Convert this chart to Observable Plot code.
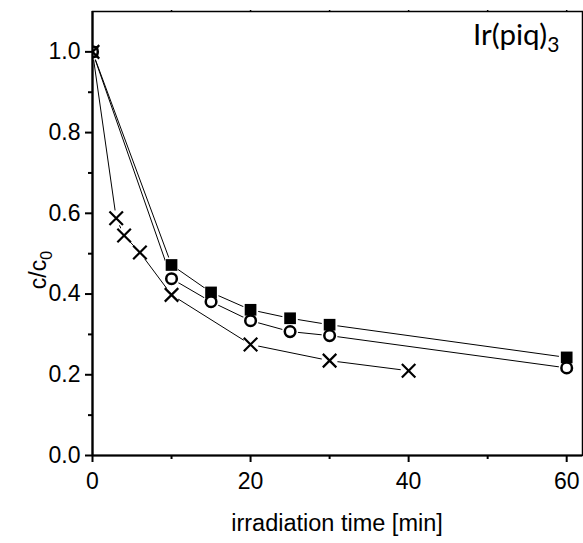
<!DOCTYPE html>
<html>
<head>
<meta charset="utf-8">
<script src="https://cdn.jsdelivr.net/npm/d3@7"></script>
<script src="https://cdn.jsdelivr.net/npm/@observablehq/plot@0.6"></script>
<style>
  html, body { margin: 0; padding: 0; background: #fff; }
  #chart svg { display: block; }
</style>
</head>
<body>
<div id="chart"></div>
<script>
// Series: filled squares
const timeSquare = [0, 10, 15, 20, 25, 30, 60];
const valSquare  = [1.0, 0.472, 0.404, 0.361, 0.340, 0.324, 0.243];
// Series: open circles
const timeCircle = [0, 10, 15, 20, 25, 30, 60];
const valCircle  = [1.0, 0.438, 0.381, 0.334, 0.307, 0.297, 0.217];
// Series: crosses
const timeCross = [0, 3, 4, 6, 10, 20, 30, 40];
const valCross  = [1.0, 0.588, 0.545, 0.503, 0.398, 0.275, 0.235, 0.210];

const xMajor = [0, 20, 40, 60];
const xMinor = [10, 30, 50];
const yMajor = [0, 0.2, 0.4, 0.6, 0.8, 1.0];
const yMinor = [0.1, 0.3, 0.5, 0.7, 0.9];

const sq = timeSquare.map((t, i) => ({t, v: valSquare[i]}));
const ci = timeCircle.map((t, i) => ({t, v: valCircle[i]}));
const cr = timeCross.map((t, i) => ({t, v: valCross[i]}));

const font = "'Liberation Sans', Arial, sans-serif";

const chart = Plot.plot({
  width: 583,
  height: 543,
  marginLeft: 92,
  marginRight: 1,
  marginTop: 11,
  marginBottom: 88,
  style: {background: "white", color: "black"},
  x: {domain: [0, 62]},
  y: {domain: [0, 1.1]},
  marks: [
    Plot.line(sq, {x: "t", y: "v", stroke: "black", strokeWidth: 1}),
    Plot.line(ci, {x: "t", y: "v", stroke: "black", strokeWidth: 1}),
    Plot.line(cr, {x: "t", y: "v", stroke: "black", strokeWidth: 1}),
    // white halos to create gaps in the lines near the symbols
    Plot.dot(sq, {x: "t", y: "v", fill: "white", r: 8, clip: true}),
    Plot.dot(ci, {x: "t", y: "v", fill: "white", r: 8, clip: true}),
    Plot.dot(cr, {x: "t", y: "v", fill: "white", r: 8, clip: true}),
    Plot.dot(sq, {x: "t", y: "v", symbol: "square", fill: "black", r: 6.6, clip: true}),
    Plot.dot(ci, {x: "t", y: "v", symbol: "circle", fill: "white", stroke: "black", strokeWidth: 2.5, r: 5.3, clip: true}),
    Plot.dot(cr, {x: "t", y: "v", symbol: "times", stroke: "black", strokeWidth: 2.2, r: 6.2, clip: true}),
    Plot.frame({stroke: "black", strokeWidth: 1.5}),
    Plot.ruleX([0], {stroke: "black", strokeWidth: 2.2}),
    Plot.ruleY([0], {stroke: "black", strokeWidth: 2.2}),
    Plot.axisX({ticks: xMajor, tickSize: 7, tickPadding: 10, strokeWidth: 2, label: null}),
    Plot.axisX({ticks: xMinor, tickSize: 4, strokeWidth: 2, tickFormat: () => "", label: null}),
    Plot.axisX({ticks: [10, 20, 30, 40, 50, 60], anchor: "top", tickSize: 2, strokeWidth: 1.5, tickFormat: () => "", label: null}),
    Plot.axisY({ticks: yMajor, tickSize: 7, tickPadding: 5, strokeWidth: 2, tickFormat: d3.format(".1f"), label: null}),
    Plot.axisY({ticks: yMinor, tickSize: 4, strokeWidth: 2, tickFormat: () => "", label: null})
  ]
});

const svg = d3.select(chart);
// enlarge tick labels produced by Plot
svg.selectAll("text")
  .style("font-family", font)
  .style("font-size", "23px")
  .style("fill", "black");

// x axis title
svg.append("text")
  .attr("x", 337).attr("y", 531)
  .attr("text-anchor", "middle")
  .attr("style", `font-family:${font};font-size:23.5px;fill:black`)
  .text("irradiation time [min]");
// y axis title c/c0
const yl = svg.append("text")
  .attr("transform", "translate(46,270) rotate(-90)")
  .attr("text-anchor", "middle")
  .attr("style", `font-family:${font};font-size:23px;fill:#000`);
yl.append("tspan").text("c/c");
yl.append("tspan").attr("dy", 6).attr("style", "font-size:16px").text("0");
// annotation Ir(piq)3
const ann = svg.append("text")
  .attr("x", 473).attr("y", 45)
  .attr("text-anchor", "start")
  .attr("style", "font-family:Lato,'Open Sans',sans-serif;font-size:29.5px;fill:black");
ann.append("tspan").text("Ir(piq)");
ann.append("tspan").attr("dy", 7).attr("style", "font-size:21px").text("3");

document.getElementById("chart").appendChild(chart);
</script>
</body>
</html>
